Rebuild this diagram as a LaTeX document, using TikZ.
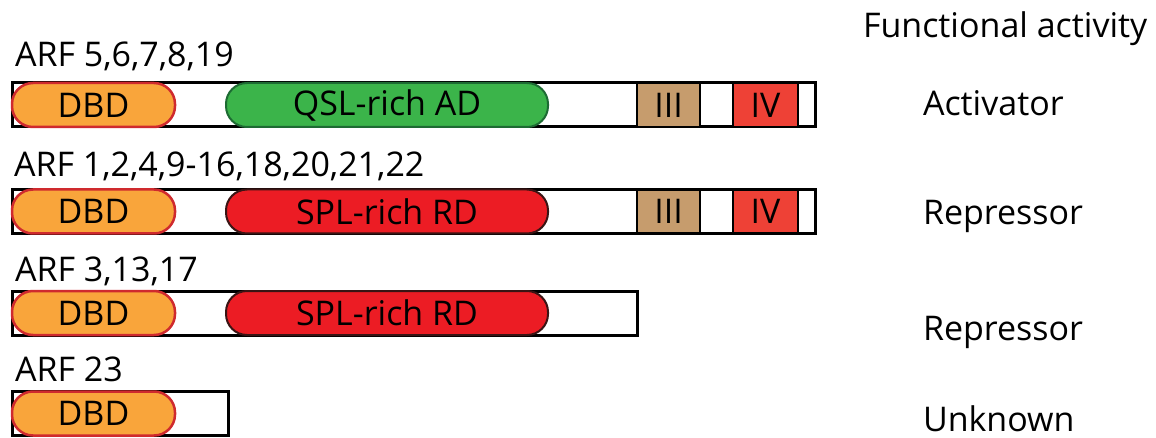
\documentclass[tikz,border=0pt]{standalone}
\usepackage{fontspec}
\setmainfont{Open Sans}
\definecolor{dbdfill}{HTML}{F9A53B}
\definecolor{dbdline}{HTML}{CF2A2E}
\definecolor{adfill}{HTML}{3BB44A}
\definecolor{adline}{HTML}{1D6B33}
\definecolor{rdfill}{HTML}{EC1C24}
\definecolor{rdline}{HTML}{3A1414}
\definecolor{tan}{HTML}{C69C6D}
\definecolor{ivred}{HTML}{EE4136}
\begin{document}
\begin{tikzpicture}[x=1pt,y=-1pt,
  every node/.style={font=\fontsize{34}{40}\selectfont, inner sep=0pt, outer sep=0pt},
  bar/.style={draw=black, line width=3pt, fill=white, minimum height=44pt},
  dbd/.style={draw=dbdline, line width=2.5pt, fill=dbdfill, rounded corners=21pt, minimum width=163pt, minimum height=44pt},
  ad/.style={draw=adline, line width=2pt, fill=adfill, rounded corners=21pt, minimum width=322pt, minimum height=44pt},
  rd/.style={draw=rdline, line width=2pt, fill=rdfill, rounded corners=21pt, minimum width=322pt, minimum height=44pt},
  dIII/.style={draw=black, line width=2.5pt, fill=tan, minimum width=63pt, minimum height=44pt},
  dIV/.style={draw=black, line width=2.5pt, fill=ivred, minimum width=65pt, minimum height=44pt},
  lab/.style={anchor=base west}
]
\useasboundingbox (0,0) rectangle (1156,438);
% title
\node[lab] (title) at (863,38) {Functional activity};
% row 1
\node[lab] (l1) at (15,67) {ARF 5,6,7,8,19};
\node[bar, minimum width=803pt] (b1) at (413.5,105) {};
\node[dbd] (d1) at (93.5,105) {DBD};
\node[ad] (a1) at (387,105) {QSL-rich AD};
\node[dIII] (t1) at (668.5,105) {III};
\node[dIV] (f1) at (765.5,105) {IV};
\node[lab] (r1) at (923,116) {Activator};
% row 2
\node[lab] (l2) at (14,177) {ARF 1,2,4,9-16,18,20,21,22};
\node[bar, minimum width=803pt] (b2) at (413.5,211.5) {};
\node[dbd] (d2) at (93.5,211.5) {DBD};
\node[rd] (a2) at (387,211.5) {SPL-rich RD};
\node[dIII] (t2) at (668.5,211.5) {III};
\node[dIV] (f2) at (765.5,211.5) {IV};
\node[lab] (r2) at (923,225) {Repressor};
% row 3
\node[lab] (l3) at (15,282) {ARF 3,13,17};
\node[bar, minimum width=625pt] (b3) at (324.5,313) {};
\node[dbd] (d3) at (93.5,313) {DBD};
\node[rd] (a3) at (387,313) {SPL-rich RD};
\node[lab] (r3) at (923,340) {Repressor};
% row 4
\node[lab] (l4) at (15,381) {ARF 23};
\node[bar, minimum width=216pt] (b4) at (120,413.5) {};
\node[dbd] (d4) at (93.5,413.5) {DBD};
\node[lab] (r4) at (923,431) {Unknown};
\end{tikzpicture}
\end{document}
